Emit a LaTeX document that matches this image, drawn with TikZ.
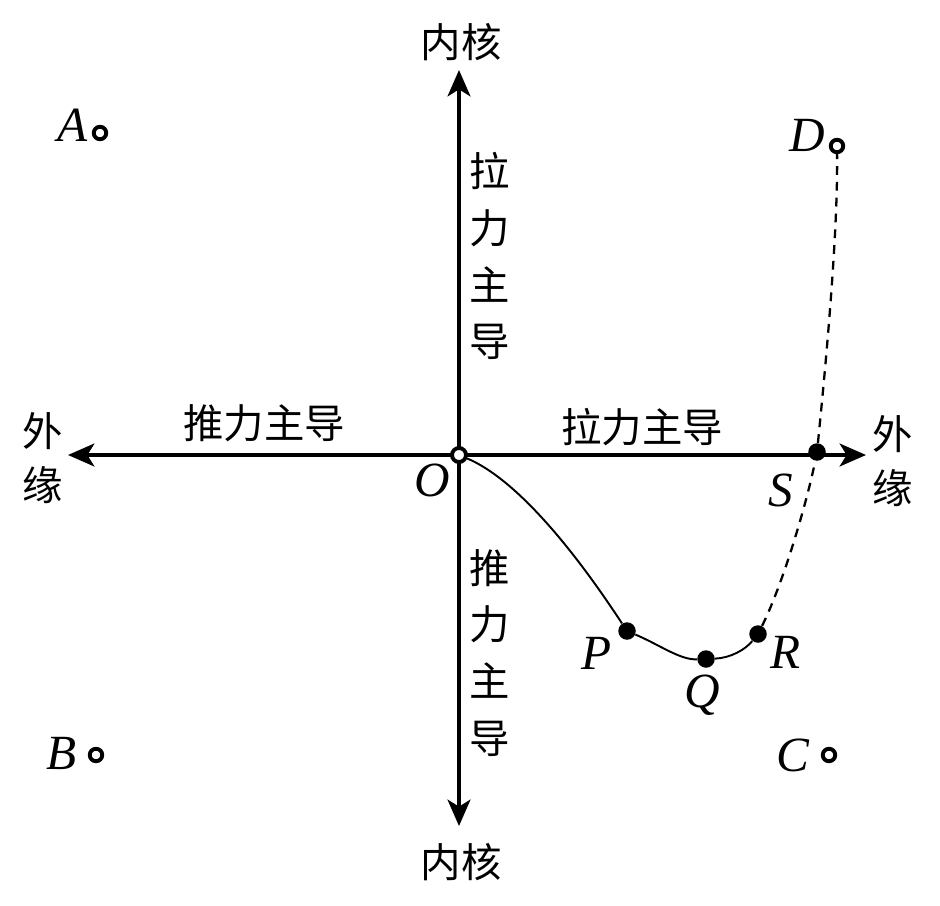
\documentclass[tikz,border=0pt]{standalone}
\usepackage{fontspec}
\setmainfont{Liberation Serif}
\newfontfamily\cjk{Noto Sans CJK SC}
\usetikzlibrary{arrows.meta}
\begin{document}
\begin{tikzpicture}[x=0.02cm,y=-0.02cm,
  axis/.style={line width=2.2pt,{Stealth[length=15pt,width=13pt,inset=4pt]}-{Stealth[length=15pt,width=13pt,inset=4pt]}},
  hollow/.style={circle,draw,fill=white,line width=2.2pt,inner sep=0pt,minimum size=0.25cm},
  fdot/.style={circle,fill=black,inner sep=0pt,minimum size=0.35cm},
  lab/.style={font=\fontsize{28}{32}\selectfont\itshape,inner sep=0pt},
  cj/.style={font=\cjk\fontsize{23}{28}\selectfont,inner sep=0pt},
  vcj/.style={font=\cjk\fontsize{23}{32.4}\selectfont,align=center,inner sep=0pt},
  twocj/.style={font=\cjk\fontsize{23}{31}\selectfont,align=center,inner sep=0pt},
  curve/.style={line width=1.1pt},
  dcurve/.style={line width=1.3pt,dash pattern=on 5pt off 4pt}
]
\useasboundingbox (0,0) rectangle (940,906);

% axes
\coordinate (xl) at (68,455);
\coordinate (xr) at (866,455);
\coordinate (yt) at (459,70);
\coordinate (yb) at (459,826);
\draw[axis] (xl) -- (xr);
\draw[axis] (yt) -- (yb);

% axis labels
\node[cj] (ntop) at (461,42) {内核};
\node[cj] (nbot) at (461,862) {内核};
\node[twocj] (wl) at (43,458) {外\\缘};
\node[twocj] (wr) at (893,461) {外\\缘};
\node[cj] (tl) at (264,423) {推力主导};
\node[cj] (lr) at (642,427) {拉力主导};
\node[vcj] (lt) at (490,256) {拉\\力\\主\\导};
\node[vcj] (tb) at (490,653) {推\\力\\主\\导};

% points
\node[hollow,minimum size=0.28cm] (O) at (459,455) {};
\node[hollow] (A) at (100,133) {};
\node[hollow] (B) at (96,755) {};
\node[hollow] (C) at (829,755) {};
\node[hollow] (D) at (837,146) {};
\node[fdot] (S) at (817,452) {};
\node[fdot] (P) at (627,631) {};
\node[fdot] (Q) at (706,659) {};
\node[fdot] (R) at (758,634) {};

% point labels
\node[lab] (lO) at (432,480) {O};
\node[lab] (lA) at (73,125) {A};
\node[lab] (lB) at (62,753) {B};
\node[lab] (lC) at (793,755) {C};
\node[lab] (lD) at (807,135) {D};
\node[lab] (lS) at (781,490) {S};
\node[lab] (lP) at (597,653) {P};
\node[lab] (lQ) at (702,695) {Q};
\node[lab] (lR) at (786,652) {R};

% curves
\draw[curve] (O) .. controls (530,485) and (600,590) .. (P);
\draw[curve] (P) .. controls (660,645) and (680,660) .. (Q);
\draw[curve] (Q) .. controls (730,658) and (745,650) .. (R);
\draw[dcurve] (R) .. controls (783,584) and (807,502) .. (S);
\draw[dcurve] (S) .. controls (824,382) and (838,240) .. (D);
\end{tikzpicture}
\end{document}
